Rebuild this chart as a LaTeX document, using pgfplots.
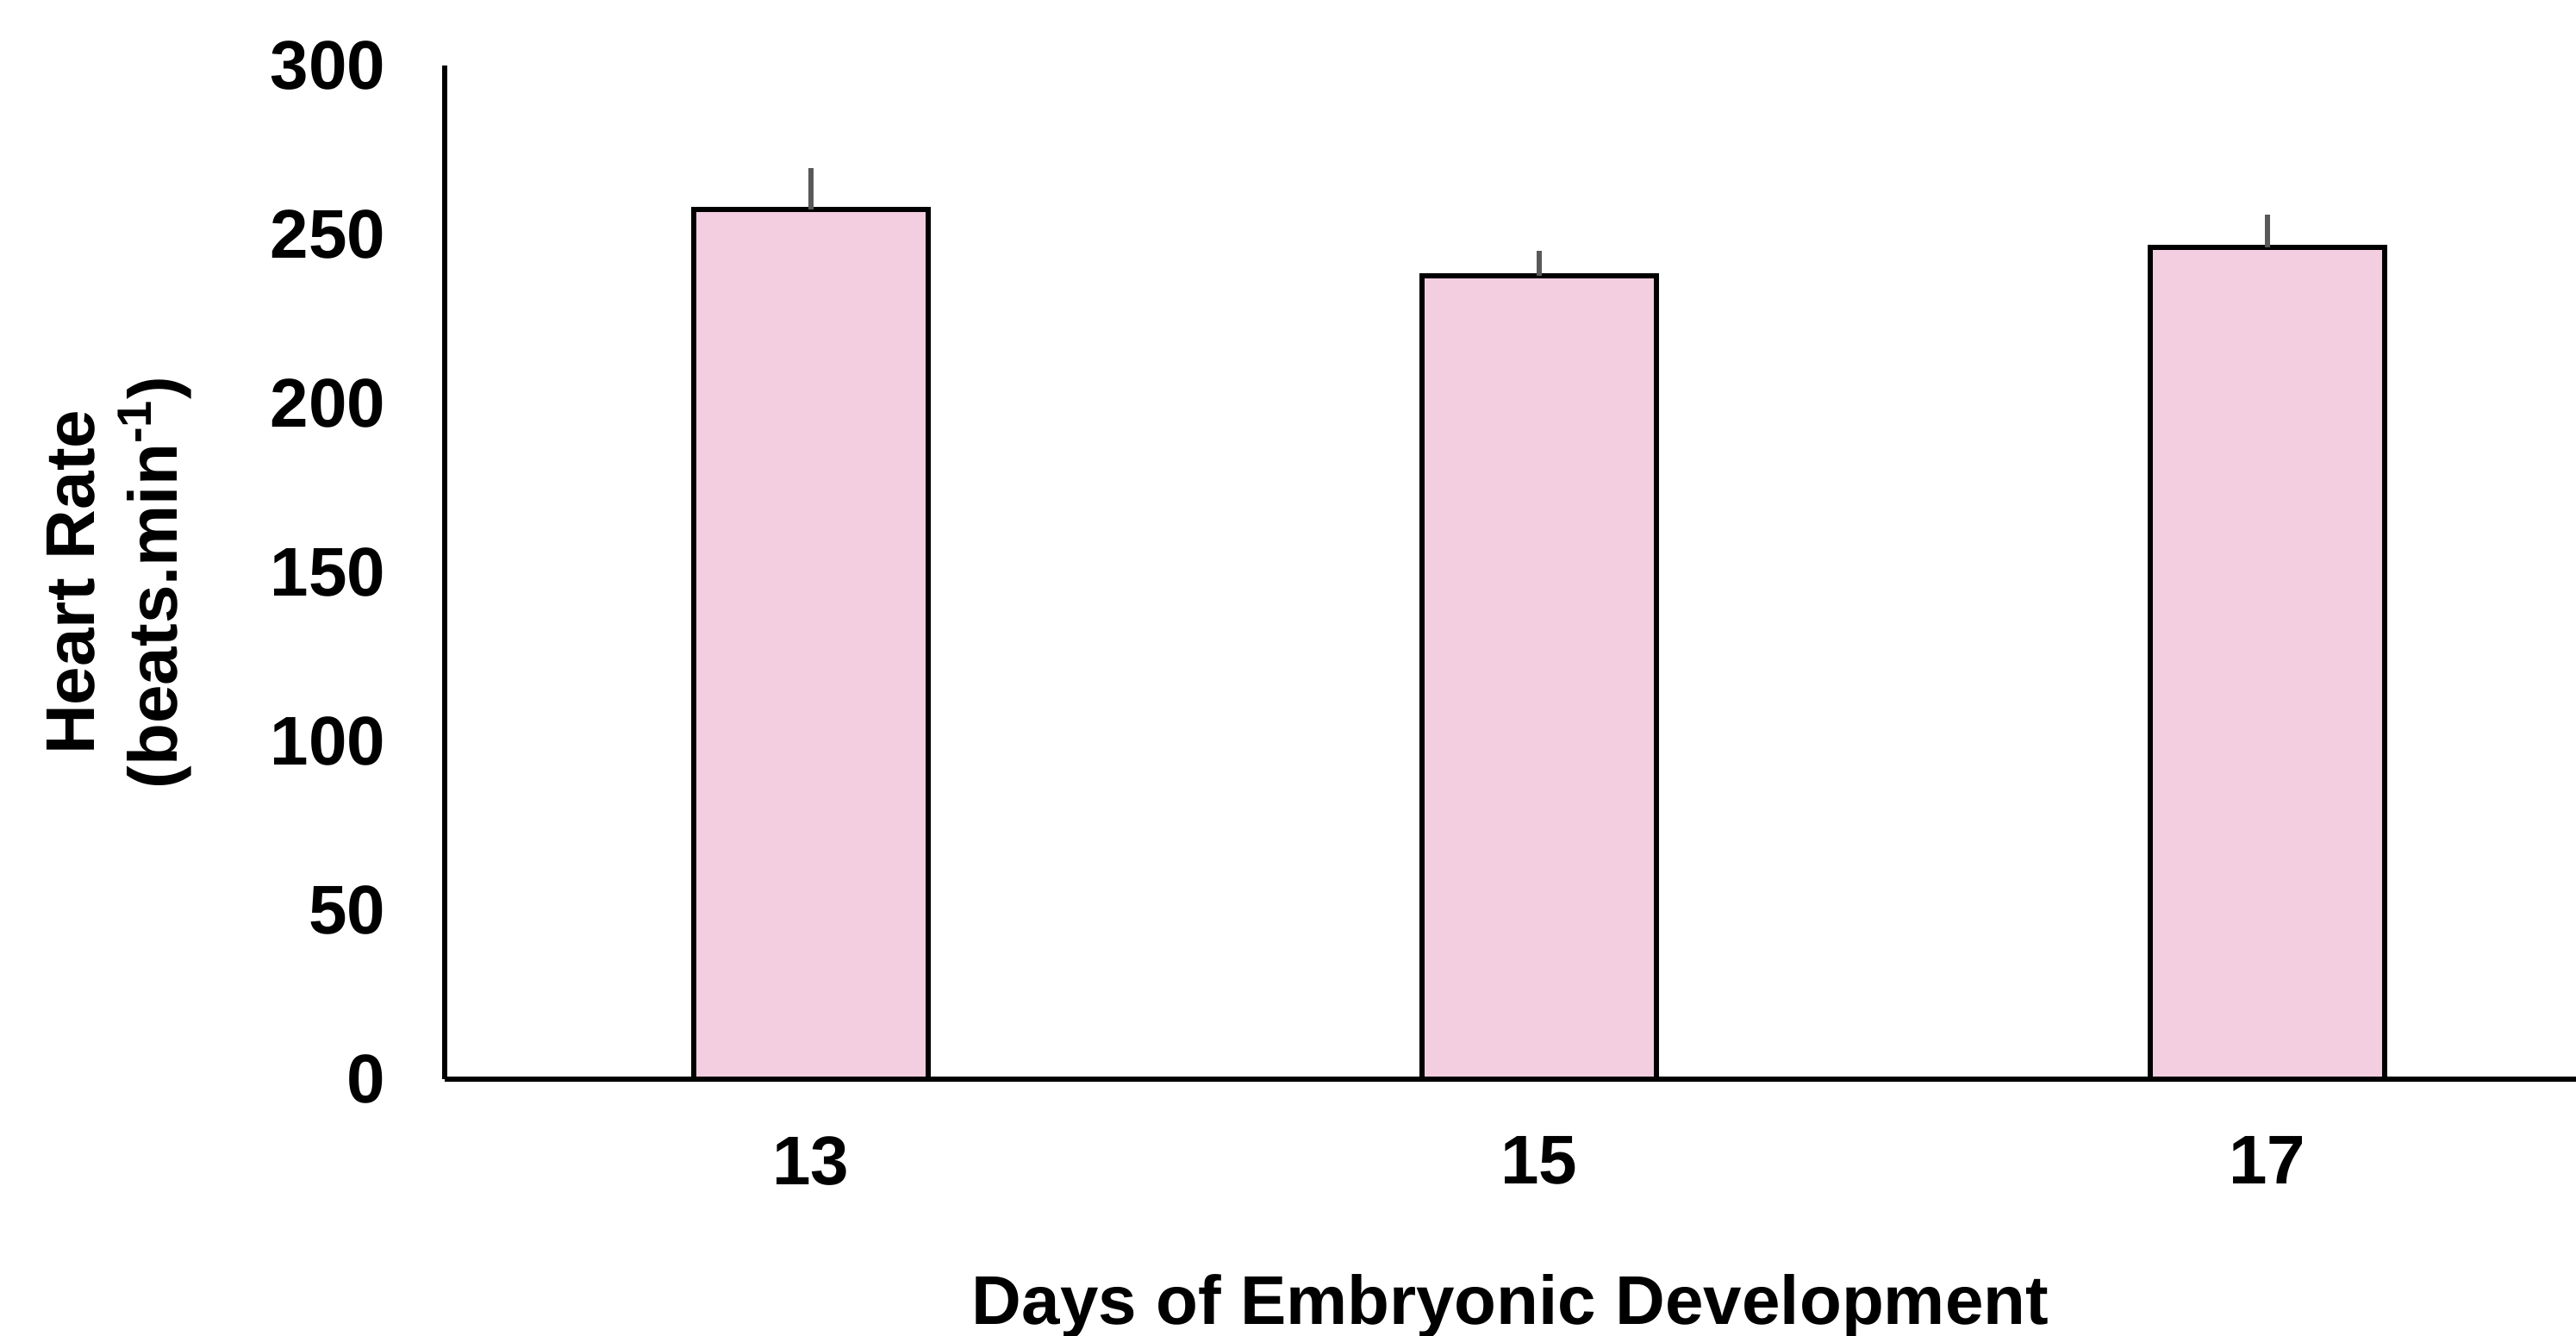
\documentclass[border=0pt]{standalone}
\usepackage{pgfplots}
\pgfplotsset{compat=1.18}
\usepackage{fontspec}
\setmainfont{Liberation Sans}
\definecolor{barpink}{RGB}{242,206,224}
\definecolor{errgray}{RGB}{89,89,89}
\begin{document}
\begin{tikzpicture}
\begin{axis}[
  at={(0,0)}, anchor=south west,
  scale only axis,
  width=618.25pt, height=294pt,
  xmin=-0.503, xmax=2.424,
  ymin=0, ymax=300,
  axis x line=bottom, axis y line=left,
  axis line style={line width=1.6pt, -},
  xtick=data, xticklabels={13,15,17},
  ytick={0,50,100,150,200,250,300},
  major tick length=0pt,
  /pgf/number format/assume math mode=true,
  tick label style={font=\fontsize{20}{24}\selectfont\bfseries},
  xticklabel style={inner sep=0pt, anchor=north, yshift=-16.5pt},
  yticklabel style={inner sep=0pt, anchor=east, xshift=-17pt},
  xlabel={Days of Embryonic Development},
  xlabel style={font=\fontsize{20}{24}\selectfont\bfseries, at={(axis description cs:0.5,0)}, anchor=base, yshift=-71.25pt, inner sep=0pt},
  clip=false,
]
\addplot[ybar, bar width=0.322, fill=barpink, draw=black, line width=1.5pt,
  error bars/.cd, y dir=plus, y explicit, error mark=none,
  error bar style={line width=1.5pt, errgray}]
  coordinates {
    (0,257.4) +- (0,12.2)
    (1,237.8) +- (0,7.4)
    (2,246.2) +- (0,9.7)
  };
\node[rotate=90, align=center, inner sep=0pt, font=\fontsize{20}{24}\selectfont\bfseries]
  at ([xshift=-94.5pt]rel axis cs:0,0.49) {Heart Rate\\(beats.min\textsuperscript{-1})};
\end{axis}
\pgfresetboundingbox
\useasboundingbox (-129pt,-74.5pt) rectangle (618.25pt,313pt);
\end{tikzpicture}
\end{document}
